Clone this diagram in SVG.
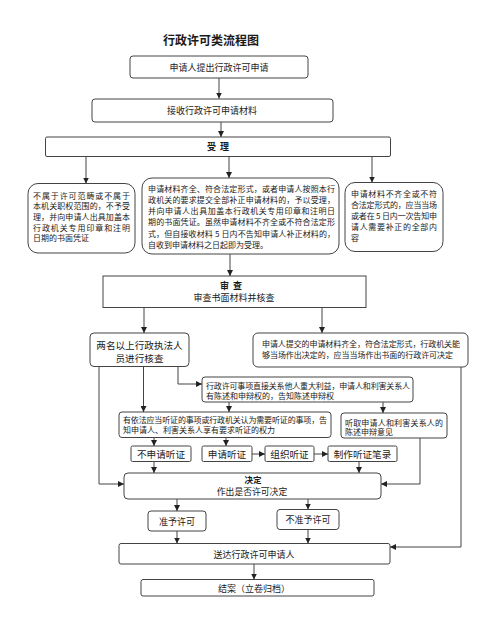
<svg xmlns="http://www.w3.org/2000/svg" width="500" height="625" viewBox="0 0 500 625">
<defs>
<marker id="ah" viewBox="0 0 6 6" refX="6" refY="3" markerWidth="6" markerHeight="6" markerUnits="userSpaceOnUse" orient="auto">
<path d="M0,0 L6,3 L0,6 z" fill="#222"/>
</marker>
<style>
.b{fill:#fff;stroke:#444;stroke-width:1}
.t{font-family:"Noto Sans CJK SC","Noto Sans",sans-serif;fill:#1a1a1a;dominant-baseline:central}
.c{text-anchor:middle}
.s8{font-size:8px}
.s9{font-size:9px}
.s10{font-size:9.6px}
.bd{font-weight:bold}
.cn{fill:none;stroke:#444;stroke-width:1}
.ar{marker-end:url(#ah)}
</style>
</defs>
<rect width="500" height="625" fill="#fff"/>
<text class="t c bd" x="211" y="39" font-size="12">行政许可类流程图</text>

<g id="n1"><rect class="b" x="130" y="56" width="178" height="22" rx="3"/><text class="t c s9" x="219" y="67">申请人提出行政许可申请</text></g>
<g id="n2"><rect class="b" x="92" y="99" width="241" height="23" rx="3"/><text class="t c s9" x="212" y="110.5">接收行政许可申请材料</text></g>
<g id="n3"><rect class="b" x="45.5" y="137" width="345" height="19.5" rx="1.5"/><text class="t c s9 bd" x="218" y="146" xml:space="preserve">受  理</text></g>

<g id="n4"><rect class="b" x="28" y="183.5" width="107" height="69.5" rx="10"/>
<text class="t s8" x="33" y="195" textLength="97" lengthAdjust="spacing">不属于许可范畴或不属于</text>
<text class="t s8" x="33" y="205.7" textLength="97" lengthAdjust="spacing">本机关职权范围的，不予受</text>
<text class="t s8" x="33" y="216.4" textLength="97" lengthAdjust="spacing">理，并向申请人出具加盖本</text>
<text class="t s8" x="33" y="227" textLength="97" lengthAdjust="spacing">行政机关专用印章和注明</text>
<text class="t s8" x="33" y="237.7">日期的书面凭证</text>
</g>

<g id="n5"><rect class="b" x="142" y="178" width="197" height="76" rx="10"/>
<text class="t s8" x="148" y="188.3" textLength="187" lengthAdjust="spacing">申请材料齐全、符合法定形式，或者申请人按照本行</text>
<text class="t s8" x="148" y="199.5" textLength="187" lengthAdjust="spacing">政机关的要求提交全部补正申请材料的，予以受理，</text>
<text class="t s8" x="148" y="210.7" textLength="187" lengthAdjust="spacing">并向申请人出具加盖本行政机关专用印章和注明日</text>
<text class="t s8" x="148" y="221.9" textLength="187" lengthAdjust="spacing">期的书面凭证。虽然申请材料不齐全或不符合法定形</text>
<text class="t s8" x="148" y="233.1" textLength="187" lengthAdjust="spacing">式，但自接收材料 5 日内不告知申请人补正材料的，</text>
<text class="t s8" x="148" y="244.3">自收到申请材料之日起即为受理。</text>
</g>

<g id="n6"><rect class="b" x="345" y="182.5" width="98" height="69" rx="10"/>
<text class="t s8" x="351" y="193" textLength="86" lengthAdjust="spacing">申请材料不齐全或不符</text>
<text class="t s8" x="351" y="204" textLength="86" lengthAdjust="spacing">合法定形式的，应当当场</text>
<text class="t s8" x="351" y="215" textLength="86" lengthAdjust="spacing">或者在 5 日内一次告知申</text>
<text class="t s8" x="351" y="226" textLength="86" lengthAdjust="spacing">请人需要补正的全部内</text>
<text class="t s8" x="351" y="237">容</text>
</g>

<g id="n7"><rect class="b" x="103" y="276" width="263" height="31.5"/>
<text class="t c s9 bd" x="231" y="285" xml:space="preserve">审  查</text>
<text class="t c s9" x="234" y="297">审查书面材料并核查</text>
</g>

<g id="n8"><rect class="b" x="90" y="333" width="99" height="33.5" rx="4"/>
<text class="t c s10" x="139.5" y="345">两名以上行政执法人</text>
<text class="t c s10" x="139.5" y="358">员进行核查</text>
</g>

<g id="n9"><rect class="b" x="253" y="333" width="215" height="34" rx="5"/>
<text class="t s8" x="262" y="343.5" textLength="198" lengthAdjust="spacing">申请人提交的申请材料齐全，符合法定形式，行政机关能</text>
<text class="t s8" x="262" y="354.5" textLength="191" lengthAdjust="spacing">够当场作出决定的，应当当场作出书面的行政许可决定</text>
</g>

<g id="n10"><rect class="b" x="202" y="377" width="211" height="25" rx="3"/>
<text class="t s8" x="206" y="385" textLength="204" lengthAdjust="spacing">行政许可事项直接关系他人重大利益，申请人和利害关系人</text>
<text class="t s8" x="206" y="395">有陈述和申辩权的，告知陈述申辩权</text>
</g>

<g id="n11"><rect class="b" x="119" y="412" width="212" height="25.5" rx="3"/>
<text class="t s8" x="123" y="419.5" textLength="204" lengthAdjust="spacing">有依法应当听证的事项或行政机关认为需要听证的事项，告</text>
<text class="t s8" x="123" y="429.5">知申请人、利害关系人享有要求听证的权力</text>
</g>

<g id="n12"><rect class="b" x="341" y="413" width="106" height="25" rx="3"/>
<text class="t s8" x="345" y="422" textLength="98" lengthAdjust="spacing">听取申请人和利害关系人的</text>
<text class="t s8" x="345" y="431.5">陈述申辩意见</text>
</g>

<g id="n13"><rect class="b" x="131" y="446" width="60" height="15.5" rx="1.5"/><text class="t c s10" x="161" y="454">不申请听证</text></g>
<g id="n14"><rect class="b" x="202" y="446" width="50" height="15.5" rx="1.5"/><text class="t c s10" x="227" y="454">申请听证</text></g>
<g id="n15"><rect class="b" x="265" y="446" width="49" height="15.5" rx="1.5"/><text class="t c s10" x="289.5" y="454">组织听证</text></g>
<g id="n16"><rect class="b" x="328" y="446" width="69" height="15.5" rx="1.5"/><text class="t c s10" x="362.5" y="454">制作听证笔录</text></g>

<g id="n17"><rect class="b" x="124" y="473" width="257" height="26" rx="4"/>
<text class="t c bd" x="253" y="479" font-size="8.5">决定</text>
<text class="t c" x="252" y="491" font-size="8.8">作出是否许可决定</text>
</g>

<g id="n18"><rect class="b" x="148" y="511" width="58" height="20" rx="3"/><text class="t c s9" x="177" y="521">准予许可</text></g>
<g id="n19"><rect class="b" x="277" y="509.5" width="62" height="20" rx="3"/><text class="t c s9" x="308" y="519.5">不准予许可</text></g>

<g id="n20"><rect class="b" x="119" y="543.5" width="271" height="20.5" rx="2"/><text class="t c s9" x="254" y="554.5">送达行政许可申请人</text></g>
<g id="n21"><rect class="b" x="141" y="579.5" width="233" height="16.5" rx="2"/><text class="t c s9" x="254" y="588">结案（立卷归档）</text></g>

<g id="connectors">
<path class="cn ar" d="M219,78 V98.5"/>
<path class="cn ar" d="M221,122 V137"/>
<path class="cn ar" d="M86,156.5 V183.5"/>
<path class="cn ar" d="M229,156.5 V178"/>
<path class="cn ar" d="M372,156.5 V182.5"/>
<path class="cn ar" d="M230,254 V276"/>
<path class="cn ar" d="M144,307.5 V333"/>
<path class="cn ar" d="M322,307.5 V333"/>
<path class="cn ar" d="M99,366.5 V484 H124"/>
<path class="cn ar" d="M143.5,366.5 V412"/>
<path class="cn ar" d="M178,366.5 V384 H202"/>
<path class="cn ar" d="M229,402 V412"/>
<path class="cn ar" d="M383,402 V413"/>
<path class="cn ar" d="M154,437.5 V446"/>
<path class="cn ar" d="M226,437.5 V446"/>
<path class="cn ar" d="M252,454 H265"/>
<path class="cn ar" d="M314,454 H328"/>
<path class="cn ar" d="M154,461.5 V473"/>
<path class="cn ar" d="M359,461.5 V473"/>
<path class="cn ar" d="M420,438 V484 H381"/>
<path class="cn ar" d="M461,367 V547 H390"/>
<path class="cn ar" d="M177,499 V511"/>
<path class="cn ar" d="M308,499 V509.5"/>
<path class="cn ar" d="M177,531 V543.5"/>
<path class="cn ar" d="M308,529.5 V543.5"/>
<path class="cn ar" d="M254,564 V579.5"/>
</g>
</svg>
